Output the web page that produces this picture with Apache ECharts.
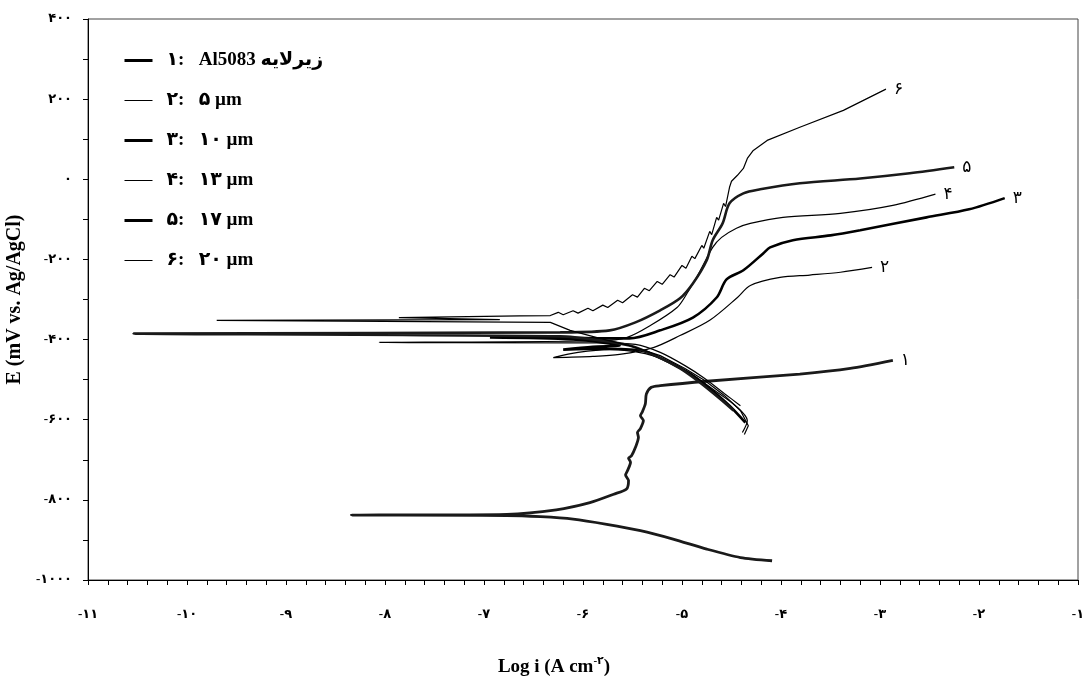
<!DOCTYPE html>
<html>
<head>
<meta charset="utf-8">
<script src="https://cdn.jsdelivr.net/npm/echarts@6/dist/echarts.min.js"></script>
<style>html,body{margin:0;padding:0;background:#fff}#c{width:1085px;height:679px}</style>
</head>
<body>
<div id="c"></div>
<script>
// ---- data (log i, E mV) ----
const seriesNames = ['۱:   Al5083 زیرلایه', '۲:   ۵ µm', '۳:   ۱۰ µm', '۴:   ۱۳ µm', '۵:   ۱۷ µm', '۶:   ۲۰ µm'];
const endLabels = ['۱', '۲', '۳', '۴', '۵', '۶'];
const xTicks = [-11, -10, -9, -8, -7, -6, -5, -4, -3, -2, -1];
const yTicks = [-1000, -800, -600, -400, -200, 0, 200, 400];

const curve1 = [
  [-4.09,-952],[-4.41,-944],[-4.75,-923],[-5.09,-898],[-5.42,-877],[-5.76,-861],[-6.10,-848],[-6.43,-842],[-6.77,-839],
  [-8.34,-838],[-6.77,-836],
  [-6.27,-825],[-5.93,-807],[-5.69,-786],[-5.56,-773],[-5.54,-752],[-5.57,-738],[-5.55,-727],[-5.52,-706],[-5.54,-696],
  [-5.51,-690],[-5.47,-669],[-5.44,-644],[-5.45,-632],[-5.42,-622],[-5.39,-602],[-5.42,-590],[-5.40,-580],[-5.37,-560],
  [-5.36,-536],[-5.31,-519],[-5.22,-515],[-4.75,-504],[-3.81,-486],[-3.30,-472],[-2.87,-452]
];
const curve2 = [
  [-4.39,-632],[-4.34,-602],[-4.46,-565],[-4.67,-527],[-4.87,-492],[-5.12,-457],[-5.37,-435],[-5.73,-425],[-6.05,-432],
  [-6.30,-445],[-5.90,-442],[-5.63,-437],
  [-5.29,-420],[-5.02,-390],[-4.72,-352],[-4.44,-295],[-4.31,-265],[-4.01,-245],[-3.71,-239],[-3.40,-232],[-3.08,-220]
];
const curve3 = [
  [-4.36,-607],[-4.52,-565],[-4.72,-522],[-4.92,-485],[-5.17,-452],[-5.42,-427],[-5.80,-423],
  [-6.20,-425],[-5.90,-418],[-5.63,-415],[-6.10,-400],
  [-6.94,-395],[-6.10,-396],[-5.83,-397],
  [-5.53,-397],[-5.22,-377],[-4.89,-345],[-4.65,-295],[-4.55,-250],[-4.38,-227],[-4.18,-185],[-4.11,-170],
  [-3.88,-152],[-3.50,-140],[-3.20,-127],[-2.53,-95],[-2.10,-75],[-1.74,-47]
];
const curve4 = [
  [-4.41,-565],[-4.57,-535],[-4.77,-497],[-4.97,-465],[-5.22,-432],[-5.47,-412],[-5.83,-408],
  [-8.06,-407],[-5.83,-403],
  [-5.56,-395],[-5.32,-365],[-5.05,-320],[-4.95,-285],[-4.82,-230],[-4.69,-170],[-4.60,-145],[-4.45,-122],
  [-4.31,-110],[-3.98,-95],[-3.40,-85],[-2.87,-65],[-2.44,-37]
];
const curve5 = [
  [-4.48,-577],[-4.62,-547],[-4.82,-507],[-5.02,-472],[-5.27,-440],[-5.53,-415],[-5.83,-402],[-6.23,-392],
  [-10.54,-385],[-6.23,-382],
  [-5.73,-377],[-5.47,-357],[-5.22,-327],[-5.02,-297],[-4.89,-260],[-4.75,-202],[-4.69,-152],[-4.59,-110],
  [-4.52,-60],[-4.38,-35],[-4.21,-25],[-3.81,-10],[-3.20,2],[-2.70,15],[-2.25,30]
];
const curve6 = [
  [-4.37,-637],[-4.33,-615],[-4.41,-577],[-4.57,-540],[-4.77,-502],[-4.97,-472],[-5.22,-440],[-5.53,-415],
  [-5.83,-397],[-6.13,-377],[-6.33,-357],
  [-9.70,-352],[-6.84,-350],
  [-7.86,-345],[-6.64,-341],
  [-6.33,-340],[-6.25,-332],[-6.20,-338],[-6.10,-328],[-6.05,-334],[-5.95,-322],[-5.90,-328],[-5.80,-314],
  [-5.75,-320],[-5.65,-302],[-5.60,-308],[-5.50,-288],[-5.45,-294],[-5.38,-272],[-5.33,-278],[-5.25,-255],
  [-5.20,-262],[-5.12,-238],[-5.08,-244],[-5.00,-215],[-4.96,-222],[-4.90,-192],[-4.87,-198],[-4.80,-165],
  [-4.78,-172],[-4.72,-130],[-4.70,-138],[-4.65,-95],[-4.63,-102],[-4.58,-60],[-4.56,-68],[-4.52,-20],
  [-4.50,-5],[-4.44,10],[-4.38,27],[-4.34,52],[-4.28,72],[-4.14,97],[-3.81,130],[-3.37,172],[-2.94,225]
];
const curves = [curve1, curve2, curve3, curve4, curve5, curve6];

// ---- styles ----
const lineWidths = [2.8, 1.2, 2.6, 1.2, 2.6, 1.2];
const lineColors = ['#1a1a1a', '#000', '#000', '#000', '#1a1a1a', '#000'];
const smoothness = [0.25, 0.3, 0.3, 0.3, 0.3, 0];
const legendWidths = [3, 1, 3, 1, 3, 1];
const FONT = "'Liberation Serif', 'DejaVu Sans', serif";
const fa = s => String(s).replace(/\d/g, d => '۰۱۲۳۴۵۶۷۸۹'[d]);
const faNum = v => (v < 0 ? '-' : '') + fa(Math.abs(v));

const chart = echarts.init(document.getElementById('c'), null, {renderer: 'canvas'});
chart.setOption({
  animation: false,
  backgroundColor: '#fff',
  grid: {left: 88, right: 7, top: 19, bottom: 99, containLabel: false, outerBoundsMode: 'none',
    show: true, borderColor: '#444', borderWidth: 1},
  legend: {
    orient: 'vertical', left: 118, top: 46,
    itemWidth: 28, itemHeight: 16, itemGap: 21,
    itemStyle: {opacity: 0},
    textStyle: {fontFamily: FONT, fontSize: 19, fontWeight: 'bold', color: '#000', padding: [0, 0, 0, 9]},
    data: seriesNames.map((n, i) => ({name: n, itemStyle: {opacity: 0}, lineStyle: {width: legendWidths[i], color: '#000'}}))
  },
  xAxis: {
    type: 'value', min: xTicks[0], max: xTicks[xTicks.length - 1], interval: 1,
    name: 'Log i (A cm{sup|-۲})', nameLocation: 'middle', nameGap: 76,
    nameTextStyle: {fontFamily: FONT, fontSize: 19, fontWeight: 'bold', color: '#000', padding: [0, 58, 0, 0],
      rich: {sup: {fontFamily: FONT, fontSize: 11, fontWeight: 'bold', color: '#000', padding: [0, 0, 12, 0]}}},
    axisLine: {onZero: false, lineStyle: {color: '#000', width: 1}},
    axisTick: {show: true, inside: false, length: 5, lineStyle: {color: '#000'}},
    minorTick: {show: true, splitNumber: 5, length: 5, lineStyle: {color: '#000'}},
    splitLine: {show: false},
    axisLabel: {margin: 28, fontFamily: FONT, fontSize: 13, fontWeight: 'bold', color: '#000', formatter: v => faNum(v)}
  },
  yAxis: {
    type: 'value', min: yTicks[0], max: yTicks[yTicks.length - 1], interval: 200,
    name: 'E (mV vs. Ag/AgCl)', nameLocation: 'middle', nameGap: 60, nameRotate: 90,
    nameTextStyle: {fontFamily: FONT, fontSize: 20, fontWeight: 'bold', color: '#000'},
    axisLine: {onZero: false, lineStyle: {color: '#000', width: 1}},
    axisTick: {show: true, inside: false, length: 5, lineStyle: {color: '#000'}},
    minorTick: {show: true, splitNumber: 2, length: 5, lineStyle: {color: '#000'}},
    splitLine: {show: false},
    axisLabel: {margin: 16, fontFamily: FONT, fontSize: 13, fontWeight: 'bold', color: '#000', formatter: v => faNum(v)}
  },
  series: curves.map((d, i) => ({
    name: seriesNames[i], type: 'line', data: d, symbol: 'none', smooth: smoothness[i],
    lineStyle: {width: lineWidths[i], color: lineColors[i]},
    itemStyle: {color: '#000'},
    endLabel: {show: true, formatter: endLabels[i], distance: 8, fontFamily: FONT, fontSize: 17, color: '#000'},
    z: 2 + i
  }))
});
</script>
</body>
</html>
